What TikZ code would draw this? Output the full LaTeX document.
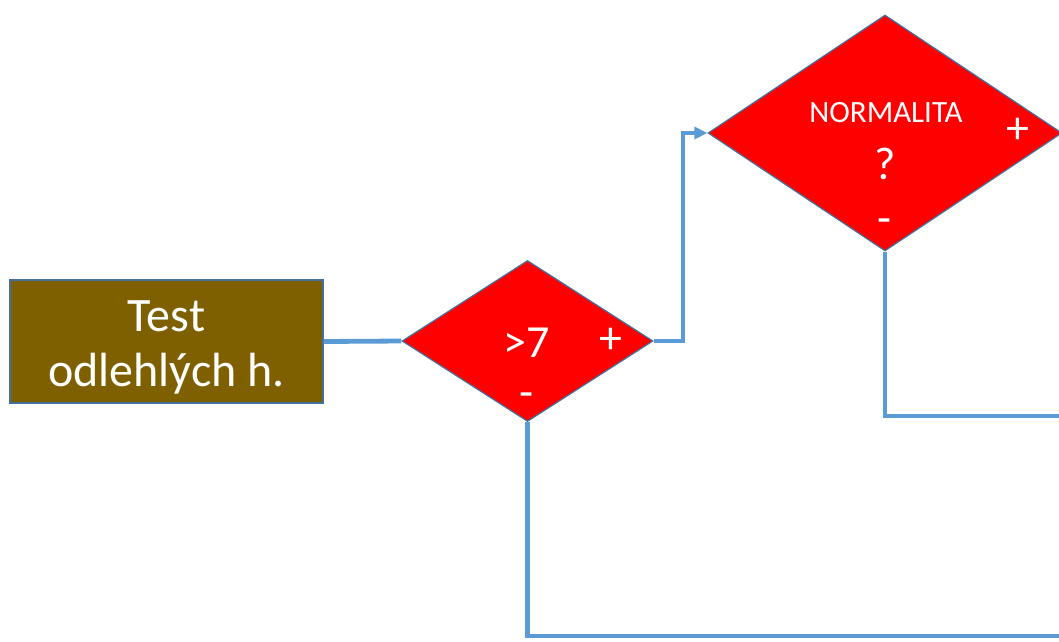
\documentclass[tikz,border=0pt]{standalone}
\usepackage{fontspec}
\setmainfont{Carlito}
\usetikzlibrary{shapes.geometric,arrows.meta}
\definecolor{flowblue}{HTML}{5B9BD5}
\definecolor{boxbrown}{HTML}{7F6000}
\definecolor{edgeblue}{HTML}{41719C}
\begin{document}
\begin{tikzpicture}[x=1pt,y=-1pt,
  link/.style={draw=flowblue,line width=4.8pt},
  startbox/.style={draw=edgeblue,line width=1.2pt,fill=boxbrown,minimum width=313pt,minimum height=123pt,inner sep=0pt,text=white,align=center,font=\fontsize{48}{55}\selectfont},
  decision/.style={diamond,draw=edgeblue,line width=1.2pt,fill=red,inner sep=0pt},
  sign/.style={text=white,font=\fontsize{46}{50}\selectfont,inner sep=0pt}]
\useasboundingbox (0,0) rectangle (1059,641);
\node[startbox] (test) at (166.5,341.5) {};
\node[text=white,align=center,font=\fontsize{48}{55}\selectfont,inner sep=0pt] (testlabel) at (166.5,347) {Test\\odlehlých h.};
\node[decision,minimum width=251pt,minimum height=161pt] (d1) at (527.5,341) {};
\node[decision,minimum width=354pt,minimum height=236pt] (d2) at (885,133) {};
% labels inside the decisions
\node[sign] (t1) at (527,343) {>7};
\node[sign] (p1) at (611,341) {+};
\node[sign] (m1) at (527,400) {-};
\node[text=white,font=\fontsize{31}{34}\selectfont,inner sep=0pt] (t2) at (886,113) {NORMALITA};
\node[sign] (q2) at (885,164) {?};
\node[sign] (p2) at (1018,131) {+};
\node[sign] (m2) at (885,226) {-};
% free ends leaving the picture
\coordinate (e1) at (1062,416);
\coordinate (e2) at (1062,636);
% connectors
\draw[link] (test.east) -- (d1.west);
\draw[link,-{Triangle[length=13pt,width=12pt]}] (d1.east) -| (683,133) -- (d2.west);
\draw[link] (d2.south) |- (e1);
\draw[link] (d1.south) |- (e2);
\end{tikzpicture}
\end{document}
